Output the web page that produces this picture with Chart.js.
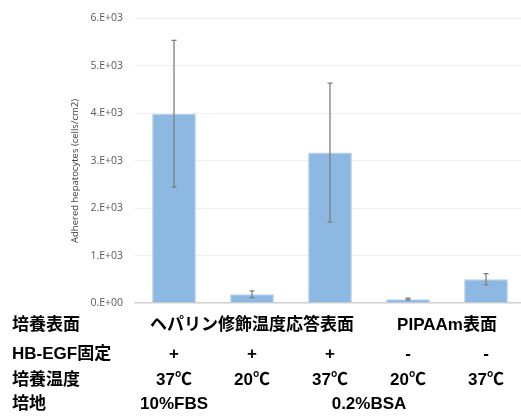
<!DOCTYPE html>
<html>
<head>
<meta charset="utf-8">
<script src="https://cdn.jsdelivr.net/npm/chart.js@4/dist/chart.umd.min.js"></script>
<style>
  html, body { margin: 0; padding: 0; background: #fff; overflow: hidden; }
  #wrap { width: 526px; height: 416px; position: relative; }
</style>
</head>
<body>
<div id="wrap"><canvas id="myChart"></canvas></div>
<script>
// data
const categories = ['A', 'B', 'C', 'D', 'E']
const meanValues = [3990, 185, 3170, 80, 500]
const errValues = [1545, 70, 1465, 20, 120]

// table under the chart
const rowHeaders = ['培養表面', 'HB-EGF固定', '培養温度', '培地']
const surfaceLabels = [{ text: 'ヘパリン修飾温度応答表面', from: 0, to: 2 }, { text: 'PIPAAm表面', from: 3, to: 4 }]
const egfLabels = ['+', '+', '+', '-', '-']
const tempLabels = ['37℃', '20℃', '37℃', '20℃', '37℃']
const mediumLabels = [{ text: '10%FBS', from: 0, to: 0 }, { text: '0.2%BSA', from: 1, to: 4 }]
const rowY = [325, 354, 380, 404]

const tableFont = 'bold 17px "Liberation Sans", "Noto Sans CJK JP", sans-serif'

const errorBars = {
  id: 'errorBars',
  afterDatasetsDraw(chart) {
    const ctx = chart.ctx
    const x = chart.scales.x, y = chart.scales.y
    ctx.save()
    ctx.strokeStyle = '#7f7f7f'
    ctx.lineWidth = 1.3
    meanValues.forEach((m, i) => {
      const px = x.getPixelForValue(i)
      const top = y.getPixelForValue(m + errValues[i])
      const bot = y.getPixelForValue(m - errValues[i])
      ctx.beginPath()
      ctx.moveTo(px, top); ctx.lineTo(px, bot)
      ctx.moveTo(px - 2.5, top); ctx.lineTo(px + 2.5, top)
      ctx.moveTo(px - 2.5, bot); ctx.lineTo(px + 2.5, bot)
      ctx.stroke()
    })
    ctx.restore()
  }
}

const tableText = {
  id: 'tableText',
  afterDraw(chart) {
    const ctx = chart.ctx
    const x = chart.scales.x
    const mid = (a, b) => (x.getPixelForValue(a) + x.getPixelForValue(b)) / 2
    ctx.save()
    // axis title
    ctx.fillStyle = '#404040'
    ctx.font = '9.5px "Open Sans", "Noto Sans", sans-serif'
    ctx.textAlign = 'center'
    ctx.textBaseline = 'middle'
    ctx.translate(75, 171)
    ctx.rotate(-Math.PI / 2)
    ctx.fillText('Adhered hepatocytes (cells/cm2)', 0, 0)
    ctx.restore()

    ctx.save()
    ctx.fillStyle = '#000'
    ctx.font = tableFont
    ctx.textBaseline = 'middle'
    ctx.textAlign = 'left'
    rowHeaders.forEach((t, r) => ctx.fillText(t, 12, rowY[r]))
    ctx.textAlign = 'center'
    surfaceLabels.forEach(s => ctx.fillText(s.text, mid(s.from, s.to), rowY[0]))
    egfLabels.forEach((t, i) => ctx.fillText(t, x.getPixelForValue(i), rowY[1]))
    tempLabels.forEach((t, i) => ctx.fillText(t, x.getPixelForValue(i), rowY[2]))
    mediumLabels.forEach(s => ctx.fillText(s.text, mid(s.from, s.to), rowY[3]))
    ctx.restore()
  }
}

new Chart(document.getElementById('myChart'), {
  type: 'bar',
  data: {
    labels: categories,
    datasets: [{
      data: meanValues,
      backgroundColor: '#8db8e1',
      borderColor: '#b4d0ec',
      borderWidth: 1,
      categoryPercentage: 1,
      barPercentage: 0.56
    }]
  },
  options: {
    responsive: true,
    maintainAspectRatio: false,
    animation: false,
    layout: { padding: { top: 15, right: 1, left: 0, bottom: 0 } },
    plugins: { legend: { display: false }, tooltip: { enabled: false } },
    scales: {
      x: {
        ticks: { display: false },
        grid: { display: false },
        border: { display: true, color: '#d0d0d0', width: 1.2 },
        afterFit(scale) { scale.height = 113 }
      },
      y: {
        min: 0,
        max: 6000,
        ticks: {
          stepSize: 1000,
          color: '#595959',
          padding: 12,
          font: { family: '"Open Sans", "Noto Sans", sans-serif', size: 10.5 },
          callback: v => v === 0 ? '0.E+00' : (v / 1000) + '.E+03'
        },
        grid: { color: '#efefef', drawTicks: false },
        border: { display: false },
        afterFit(scale) { scale.width = 135 }
      }
    }
  },
  plugins: [errorBars, tableText]
})
</script>
</body>
</html>
